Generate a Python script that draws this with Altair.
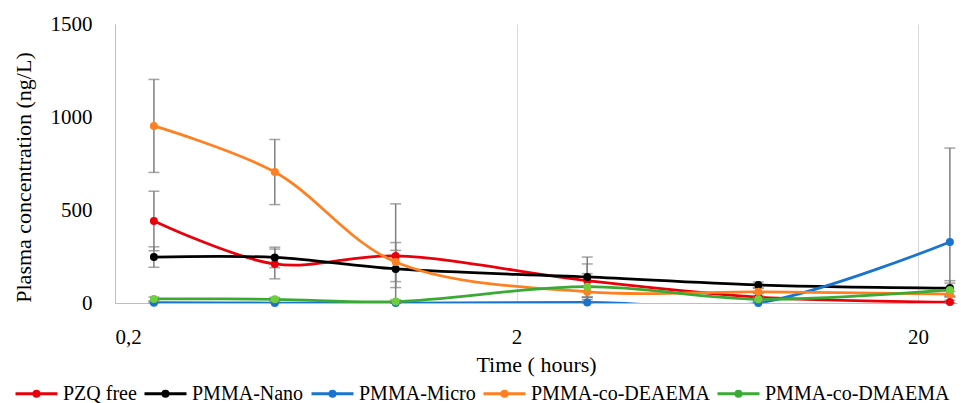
import altair as alt
import pandas as pd

# ---- data ----
times = [0.25, 0.5, 1, 3, 8, 24]
series_names = ["PZQ free", "PMMA-Nano", "PMMA-Micro", "PMMA-co-DEAEMA", "PMMA-co-DMAEMA"]

pzq_free = [441, 210, 253, 120, 32, 5]
pzq_free_err = [160, 80, 280, 90, 20, 10]
pmma_nano = [247, 245, 183, 140, 97, 80]
pmma_nano_err = [55, 55, 100, 107, 16, 40]
pmma_micro = [2, 0, 0, 3, 0, 328]
pmma_micro_err = [5, 5, 5, 5, 5, 505]
pmma_deaema = [952, 704, 220, 60, 60, 48]
pmma_deaema_err = [250, 175, 105, 30, 20, 15]
pmma_dmaema = [22, 20, 8, 88, 20, 70]
pmma_dmaema_err = [10, 10, 10, 70, 10, 37]

line_colors = ["#e8000b", "#000000", "#1874cd", "#ff8020", "#3aaa35"]
point_colors = ["#e8000b", "#000000", "#1874cd", "#ff8020", "#6ccf3c"]

x_ticks = [0.2, 2, 20]
y_ticks = [0, 500, 1000, 1500]

values = [pzq_free, pmma_nano, pmma_micro, pmma_deaema, pmma_dmaema]
errors = [pzq_free_err, pmma_nano_err, pmma_micro_err, pmma_deaema_err, pmma_dmaema_err]

rows = []
for name, vals, errs in zip(series_names, values, errors):
    for t, v, e in zip(times, vals, errs):
        rows.append({"series": name, "time": t, "value": v,
                     "lo": max(0, v - e), "hi": v + e})
df = pd.DataFrame(rows)

FONT = "Liberation Serif"

x_enc = alt.X(
    "time:Q",
    scale=alt.Scale(type="log", domain=[0.2, 25], nice=False),
    axis=alt.Axis(
        values=x_ticks,
        labelExpr="replace(format(datum.value, '~g'), '.', ',')",
        grid=True, gridColor="#d9d9d9", gridWidth=1,
        ticks=False, domainColor="#bfbfbf", domainWidth=1,
        labelFont=FONT, labelFontSize=21, labelColor="#000000",
        labelBaseline="alphabetic", labelPadding=40,
        title="Time ( hours)", titleFont=FONT, titleFontSize=22,
        titleFontWeight="normal", titleColor="#000000",
        titleBaseline="alphabetic", titleY=68,
    ),
)
y_enc = alt.Y(
    "value:Q",
    scale=alt.Scale(domain=[0, 1500], nice=False),
    axis=alt.Axis(
        values=y_ticks, format="d", grid=False, ticks=False,
        domainColor="#bfbfbf", domainWidth=1,
        labelFont=FONT, labelFontSize=21, labelColor="#000000",
        labelPadding=23,
        title="Plasma concentration (ng/L)", titleFont=FONT, titleFontSize=22,
        titleFontWeight="normal", titleColor="#000000",
        titleAngle=270, titleBaseline="alphabetic", titleAlign="center",
        titleX=-85, titleY=153,
    ),
)

legend_symbol = ("M-1,0L1,0"
                 "M-0.12,0A0.12,0.12,0,1,1,0.12,0A0.12,0.12,0,1,1,-0.12,0"
                 "M-0.05,0A0.05,0.05,0,1,1,0.05,0A0.05,0.05,0,1,1,-0.05,0")

base = alt.Chart(df)

lines = base.mark_line(interpolate="catmull-rom", strokeWidth=2.75, clip=True).encode(
    x=x_enc,
    y=y_enc,
    color=alt.Color(
        "series:N",
        scale=alt.Scale(domain=series_names, range=line_colors),
        sort=series_names,
        legend=alt.Legend(
            title=None, orient="none", legendX=-101, legendY=347,
            direction="horizontal", columns=5, padding=0,
            symbolType=legend_symbol, symbolSize=1764, symbolStrokeWidth=3,
            labelFont=FONT, labelFontSize=20, labelColor="#000000",
            labelOffset=4, labelLimit=400, columnPadding=1,
        ),
    ),
)

err_rules = base.mark_rule(color="#7f7f7f", strokeWidth=1.5).encode(
    x="time:Q", y="lo:Q", y2="hi:Q"
)
err_caps_hi = base.mark_tick(color="#7f7f7f", orient="horizontal", size=11, thickness=1.5).encode(
    x="time:Q", y="hi:Q"
)
err_caps_lo = base.mark_tick(color="#7f7f7f", orient="horizontal", size=11, thickness=1.5).encode(
    x="time:Q", y="lo:Q"
)

points = base.mark_circle(size=64, opacity=1).encode(
    x="time:Q",
    y="value:Q",
    fill=alt.Fill("series:N", scale=alt.Scale(domain=series_names, range=point_colors), legend=None),
)

chart = alt.layer(lines, err_rules, err_caps_hi, err_caps_lo, points).properties(
    width=842, height=279, autosize="none",
    padding={"left": 115, "top": 24, "right": 4, "bottom": 100},
    background="#ffffff",
).configure(
    font=FONT
).configure_axis(
    labelFont=FONT, titleFont=FONT
).configure_legend(
    labelFont=FONT
).configure_view(stroke=None)

chart.save("out.html", embed_options={"renderer": "svg", "actions": False})
